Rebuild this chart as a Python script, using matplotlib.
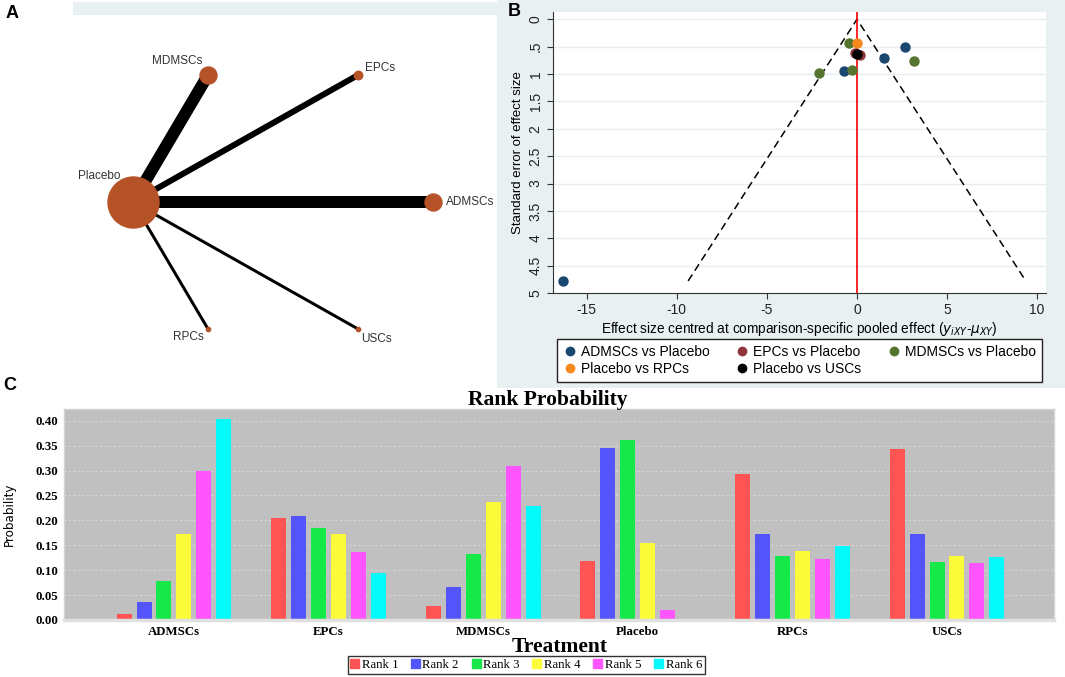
import numpy as np
import matplotlib
matplotlib.use("Agg")
import matplotlib.pyplot as plt
from matplotlib.patches import Rectangle, Patch
from matplotlib.lines import Line2D

# ---- data ----
# panel A: network (number of studies per comparison with Placebo)
treatments = ['Placebo', 'MDMSCs', 'EPCs', 'ADMSCs', 'USCs', 'RPCs']
comparisons = [('Placebo', 'ADMSCs'), ('Placebo', 'EPCs'), ('Placebo', 'MDMSCs'),
               ('Placebo', 'RPCs'), ('Placebo', 'USCs')]
n_studies = [4, 2, 4, 1, 1]

# panel B: comparison-adjusted funnel plot
adm_x = [-16.3, 2.69, 1.49, -0.72]
adm_se = [4.78, 0.51, 0.70, 0.95]
epc_x = [-0.12, 0.15]
epc_se = [0.62, 0.66]
mdm_x = [-0.46, 3.16, -0.26, -2.1]
mdm_se = [0.44, 0.77, 0.92, 0.98]
rpc_x = [0.0]
rpc_se = [0.44]
usc_x = [0.0]
usc_se = [0.64]

# panel C: rank probability
groups = ['ADMSCs', 'EPCs', 'MDMSCs', 'Placebo', 'RPCs', 'USCs']
rank1 = [0.013, 0.204, 0.029, 0.118, 0.293, 0.343]
rank2 = [0.037, 0.209, 0.066, 0.346, 0.173, 0.172]
rank3 = [0.078, 0.185, 0.132, 0.362, 0.128, 0.117]
rank4 = [0.172, 0.173, 0.236, 0.155, 0.138, 0.129]
rank5 = [0.299, 0.137, 0.309, 0.020, 0.122, 0.115]
rank6 = [0.403, 0.094, 0.229, 0.003, 0.149, 0.126]

W, H = 1065, 677
fig = plt.figure(figsize=(W / 100, H / 100), dpi=100)


def px_axes(x0, y0, x1, y1, **kw):
    return fig.add_axes([x0 / W, 1 - y1 / H, (x1 - x0) / W, (y1 - y0) / H], **kw)


# background panels
bg = fig.add_axes([0, 0, 1, 1], zorder=0)
bg.set_xlim(0, W)
bg.set_ylim(H, 0)
bg.axis('off')
bg.add_patch(Rectangle((497, 0), W - 497, 388, color='#e8f0f2', lw=0))
bg.add_patch(Rectangle((73, 2), 424, 13, color='#e8f0f2', lw=0))

sans = ['Liberation Sans', 'DejaVu Sans']
serif = ['Liberation Serif', 'DejaVu Serif']

fig.text(12 / W, 1 - 13 / H, 'A', fontsize=13, fontweight='bold', family=sans, ha='center', va='center')
fig.text(514 / W, 1 - 12 / H, 'B', fontsize=13, fontweight='bold', family=sans, ha='center', va='center')
fig.text(10 / W, 1 - 385 / H, 'C', fontsize=13, fontweight='bold', family=sans, ha='center', va='center')

# ---- A: network plot ----
ax_a = px_axes(73, 15, 497, 350, zorder=1)
ax_a.set_xlim(-1.4, 1.4267)
ax_a.set_ylim(-1.0096, 1.2756)
ax_a.axis('off')
angles = {'Placebo': 180, 'MDMSCs': 120, 'EPCs': 60, 'ADMSCs': 0, 'USCs': -60, 'RPCs': -120}
pos = {t: (np.cos(np.radians(a)), np.sin(np.radians(a))) for t, a in angles.items()}
node_n = {t: 0 for t in treatments}
for (a, b), n in zip(comparisons, n_studies):
    node_n[a] += n
    node_n[b] += n
    ax_a.plot([pos[a][0], pos[b][0]], [pos[a][1], pos[b][1]], color='black',
              lw=2.16 * n, solid_capstyle='butt', zorder=2)
for t in treatments:
    ax_a.plot(*pos[t], 'o', ms=2 * 2.125 * node_n[t] * 0.72, color='#b65228',
              mec='#b65228', zorder=3)
label_off = {'Placebo': (-24, 19, 'center'), 'MDMSCs': (-22, 10, 'center'),
             'EPCs': (5, 5, 'left'), 'ADMSCs': (9, 0, 'left'),
             'RPCs': (-14, -6, 'center'), 'USCs': (13, -7, 'center')}
for t, (dx, dy, ha) in label_off.items():
    ax_a.annotate(t, pos[t], xytext=(dx, dy), textcoords='offset points', ha=ha,
                  va='center', fontsize=8.5, family=sans, color='#333333', zorder=4)

# ---- B: funnel plot ----
ax_b = px_axes(553, 12, 1046, 293, zorder=1)
ax_b.set_facecolor('white')
ax_b.set_xlim(-16.87, 10.49)
ax_b.set_ylim(5.0, -0.133)
yt = np.arange(0, 5.01, 0.5)
ax_b.set_yticks(yt)
ax_b.set_yticklabels(['0', '.5', '1', '1.5', '2', '2.5', '3', '3.5', '4', '4.5', '5'],
                     rotation=90, va='center')
ax_b.set_xticks([-15, -10, -5, 0, 5, 10])
ax_b.set_xticklabels(['-15', '-10', '-5', '0', '5', '10'])
for y in yt[:-1]:
    ax_b.axhline(y, color='#e6eef0', lw=1, zorder=0)
for s in ['top', 'right']:
    ax_b.spines[s].set_visible(False)
for s in ['left', 'bottom']:
    ax_b.spines[s].set_color('#333333')
ax_b.tick_params(labelsize=10, length=4, color='#333333', labelcolor='#222222')
for lab in ax_b.get_xticklabels() + ax_b.get_yticklabels():
    lab.set_family(sans)

se_max = max(adm_se + epc_se + mdm_se + rpc_se + usc_se)
ax_b.plot([-1.96 * se_max, 0, 1.96 * se_max], [se_max, 0, se_max], color='black',
          lw=1.1, ls=(0, (5, 3)), zorder=2)
ax_b.axvline(0, color='red', lw=1.2, zorder=2)
series = [(adm_x, adm_se, '#1a476f', 'ADMSCs vs Placebo'),
          (epc_x, epc_se, '#90353b', 'EPCs vs Placebo'),
          (mdm_x, mdm_se, '#55752f', 'MDMSCs vs Placebo'),
          (rpc_x, rpc_se, '#f5891d', 'Placebo vs RPCs'),
          (usc_x, usc_se, '#000000', 'Placebo vs USCs')]
handles = {}
for xs, ses, c, lab in series:
    ax_b.scatter(xs, ses, s=42, color=c, zorder=3)
    handles[lab] = Line2D([], [], ls='none', marker='o', ms=6, color=c, label=lab)
ax_b.set_ylabel('Standard error of effect size', fontsize=9.5, family=sans, labelpad=3)
ax_b.set_xlabel(r'Effect size centred at comparison-specific pooled effect ($y_{iXY}$-$\mu_{XY}$)',
                fontsize=9.8, family=sans, labelpad=2)
order = ['ADMSCs vs Placebo', 'Placebo vs RPCs', 'EPCs vs Placebo', 'Placebo vs USCs',
         'MDMSCs vs Placebo']
leg_b = fig.legend(handles=[handles[k] for k in order], ncol=3, loc='center',
                   bbox_to_anchor=(557 / W, 1 - 383 / H, 485 / W, 45 / H), mode='expand',
                   frameon=True, fancybox=False, edgecolor='#222222', facecolor='white',
                   framealpha=1, prop={'family': sans, 'size': 10}, handletextpad=0.3,
                   labelspacing=0.25, borderaxespad=0, handlelength=1)
leg_b.get_frame().set_linewidth(1)

# ---- C: rank probability bars ----
ax_c = px_axes(64, 409, 1054, 620, zorder=1)
ax_c.set_facecolor('#c0c0c0')
colors = ['#ff5454', '#5454fb', '#17e84a', '#fbfb3a', '#fe55fe', '#05fbfb']
ranks = [rank1, rank2, rank3, rank4, rank5, rank6]
xg = np.arange(len(groups))
pitch = 0.129
for j, (vals, c) in enumerate(zip(ranks, colors)):
    ax_c.bar(xg + (j - 2.5) * pitch, vals, width=0.097, color=c, label='Rank %d' % (j + 1),
             zorder=2)
ax_c.set_xlim(-0.711, 5.692)
ax_c.set_ylim(0, 0.4235)
ax_c.set_yticks(np.arange(0, 0.401, 0.05))
ax_c.set_yticklabels(['%.2f' % v for v in np.arange(0, 0.401, 0.05)])
ax_c.set_xticks(xg)
ax_c.set_xticklabels(groups)
ax_c.yaxis.grid(True, color='#d6d6d6', ls=(0, (2, 2)), lw=0.8, zorder=0)
ax_c.set_axisbelow(True)
ax_c.tick_params(length=0, labelsize=9.3, pad=4)
for lab in ax_c.get_xticklabels() + ax_c.get_yticklabels():
    lab.set_family(serif)
    lab.set_fontweight('bold')
for s in ax_c.spines.values():
    s.set_color('#d4d4d4')
    s.set_linewidth(1)
ax_c.spines['bottom'].set_linewidth(2.5)
ax_c.spines['bottom'].set_color('#e0e0e0')
ax_c.set_ylabel('Probability', fontsize=9.5, family=['DejaVu Sans'], stretch='condensed',
                labelpad=14)
fig.text(548 / W, 1 - 400 / H, 'Rank Probability', fontsize=15.5, fontweight='bold',
         family=serif, ha='center', va='center')
fig.text(560 / W, 1 - 647 / H, 'Treatment', fontsize=15.5, fontweight='bold',
         family=serif, ha='center', va='center')
leg_c = fig.legend(handles=[Patch(color=c, label='Rank %d' % (j + 1)) for j, c in enumerate(colors)],
                   ncol=6, loc='center', bbox_to_anchor=(526 / W, 1 - 665 / H),
                   frameon=True, fancybox=False, edgecolor='#333333', facecolor='white',
                   framealpha=1, prop={'family': serif, 'size': 9.2}, handlelength=0.7,
                   handleheight=0.7, handletextpad=0.2, columnspacing=1.0,
                   borderpad=0.2, borderaxespad=0)
leg_c.get_frame().set_linewidth(1)

fig.savefig('out.png', dpi=100)
